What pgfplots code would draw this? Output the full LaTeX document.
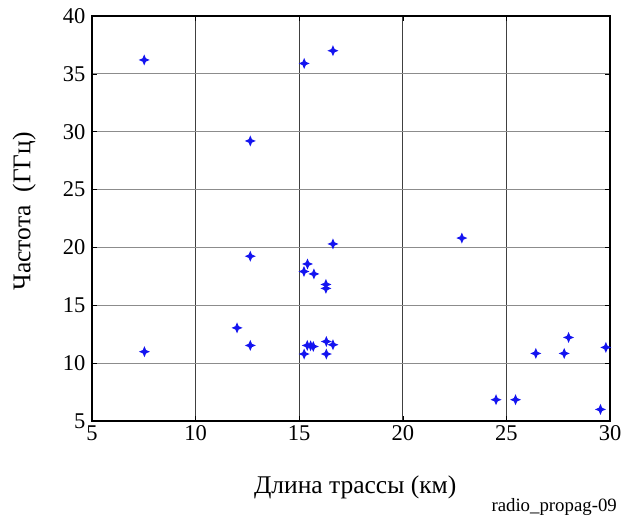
\documentclass[border=0pt]{standalone}
\usepackage{fontspec}
\setmainfont{Liberation Serif}
\usepackage{pgfplots}
\pgfplotsset{compat=1.18}
\pgfdeclareplotmark{star4}{%
  \pgfpathmoveto{\pgfqpoint{0pt}{\pgfplotmarksize}}%
  \pgfpathlineto{\pgfqpoint{0.3\pgfplotmarksize}{0.3\pgfplotmarksize}}%
  \pgfpathlineto{\pgfqpoint{\pgfplotmarksize}{0pt}}%
  \pgfpathlineto{\pgfqpoint{0.3\pgfplotmarksize}{-0.3\pgfplotmarksize}}%
  \pgfpathlineto{\pgfqpoint{0pt}{-\pgfplotmarksize}}%
  \pgfpathlineto{\pgfqpoint{-0.3\pgfplotmarksize}{-0.3\pgfplotmarksize}}%
  \pgfpathlineto{\pgfqpoint{-\pgfplotmarksize}{0pt}}%
  \pgfpathlineto{\pgfqpoint{-0.3\pgfplotmarksize}{0.3\pgfplotmarksize}}%
  \pgfpathclose
  \pgfusepathqfill}
\definecolor{mblue}{RGB}{20,20,240}
\begin{document}
\begin{tikzpicture}
\useasboundingbox (-92pt,-99pt) rectangle (539pt,421pt);
\begin{axis}[
  at={(0,0)}, anchor=south west,
  scale only axis, width=518pt, height=405pt,
  xmin=5, xmax=30, ymin=5, ymax=40,
  xtick={5,10,15,20,25,30}, ytick={5,10,15,20,25,30,35,40},
  xticklabels={5,10,15,20,25,30},
  yticklabels={5,10,15,20,25,30,35,40},
  tick align=inside, major tick length=5pt,
  tick style={black, line width=0.6pt},
  grid=major,
  x grid style={black!75, line width=0.8pt},
  y grid style={black!45, line width=0.8pt},
  axis line style={black, line width=1.4pt},
  tick label style={font=\fontsize{22.5}{25}\selectfont},
  xticklabel style={yshift=-1pt},
  yticklabel style={xshift=-3pt},
  label style={font=\fontsize{25.5}{28}\selectfont},
  xlabel={Длина трассы (км)},
  ylabel={Частота \ (ГГц)},
  xlabel style={at={(axis description cs:0.508,-0.163)}, anchor=center},
  ylabel style={at={(axis description cs:-0.131,0.518)}, anchor=center, rotate=0},
  clip=false,
]
\addplot[only marks, mark=star4, mark size=5.5pt, mblue] coordinates {
(7.52,36.2) (12.64,29.2) (15.24,35.9) (16.63,37.0)
(16.63,20.3) (12.64,19.24) (15.40,18.57) (15.23,17.92) (15.71,17.71)
(16.29,16.80) (16.29,16.46)
(12.0,13.05) (12.64,11.53) (7.53,10.99) (15.39,11.53) (15.55,11.5) (15.68,11.44)
(15.24,10.79) (16.31,11.87) (16.63,11.59) (16.31,10.79)
(22.85,20.81) (28.0,12.22) (26.42,10.84) (27.79,10.84) (29.8,11.36)
(24.5,6.84) (25.44,6.84) (29.54,6.0)
};
\end{axis}
\node[anchor=east, inner sep=0pt, font=\fontsize{18.8}{21}\selectfont] at (525pt,-86pt) {radio\_propag-09};
\end{tikzpicture}
\end{document}
